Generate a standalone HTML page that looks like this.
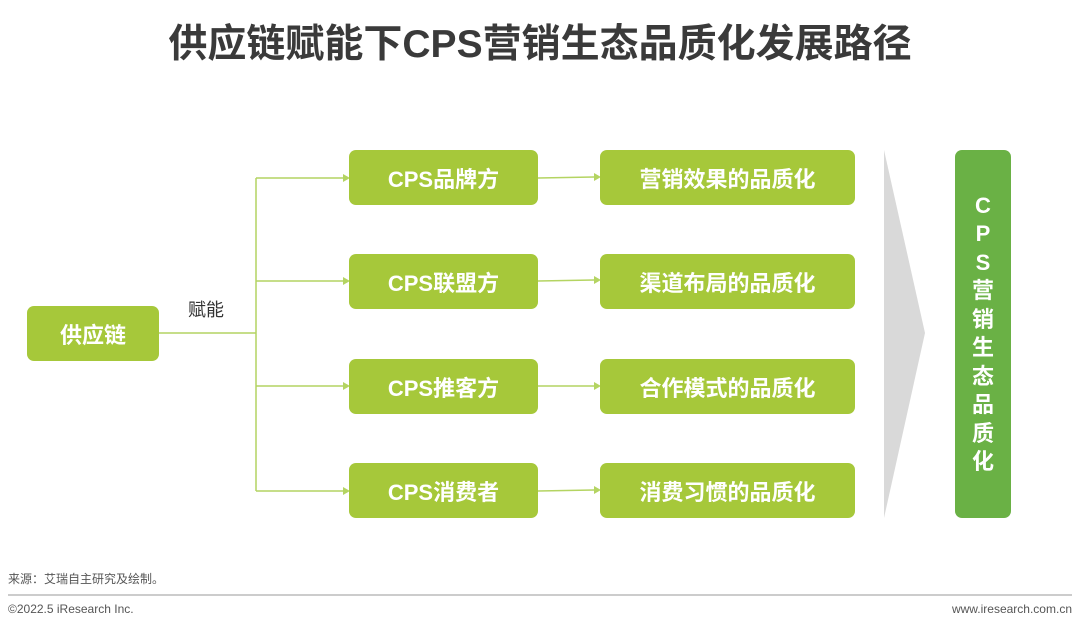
<!DOCTYPE html>
<html><head><meta charset="utf-8"><style>
body{margin:0;width:1080px;height:639px;background:#fff;position:relative;overflow:hidden;font-family:"Liberation Sans","Noto Sans CJK SC",sans-serif}
.t{position:absolute;left:0;width:1080px;top:13px;text-align:center;font-size:39px;font-weight:bold;color:#3a3a3a}
.b{position:absolute;background:#a6c83a;border-radius:7px;color:#fff;font-weight:bold;font-size:22px;display:flex;align-items:center;justify-content:center}
.s{position:absolute;font-size:12px;color:#555}
</style></head><body>
<div class="t">供应链赋能下CPS营销生态品质化发展路径</div>
<svg width="1080" height="639" style="position:absolute;left:0;top:0">
<g stroke="#b4d462" stroke-width="1.5" fill="none">
<line x1="159" y1="333" x2="256" y2="333"/>
<line x1="256" y1="178" x2="256" y2="491"/>
<line x1="256" y1="178" x2="343" y2="178"/>
<line x1="256" y1="281" x2="343" y2="281"/>
<line x1="256" y1="386" x2="343" y2="386"/>
<line x1="256" y1="491" x2="343" y2="491"/>
<line x1="538" y1="178" x2="594" y2="177"/>
<line x1="538" y1="281" x2="594" y2="280"/>
<line x1="538" y1="386" x2="594" y2="386"/>
<line x1="538" y1="491" x2="594" y2="490"/>
</g>
<g fill="#b4d462">
<polygon points="343,174 350,178 343,182"/>
<polygon points="343,277 350,281 343,285"/>
<polygon points="343,382 350,386 343,390"/>
<polygon points="343,487 350,491 343,495"/>
<polygon points="594,173 601,177 594,181"/>
<polygon points="594,276 601,280 594,284"/>
<polygon points="594,382 601,386 594,390"/>
<polygon points="594,486 601,490 594,494"/>
</g>
<polygon points="884,150 925,333 884,518" fill="#d9d9d9"/>
<line x1="8" y1="595" x2="1072" y2="595" stroke="#999" stroke-width="1"/>
</svg>
<div class="b" style="left:27px;top:306px;width:132px;height:55px">供应链</div>
<div style="position:absolute;left:188px;top:296px;font-size:18px;color:#333">赋能</div>
<div class="b" style="left:349px;top:150px;width:189px;height:55px">CPS品牌方</div>
<div class="b" style="left:349px;top:254px;width:189px;height:55px">CPS联盟方</div>
<div class="b" style="left:349px;top:359px;width:189px;height:55px">CPS推客方</div>
<div class="b" style="left:349px;top:463px;width:189px;height:55px">CPS消费者</div>
<div class="b" style="left:600px;top:150px;width:255px;height:55px">营销效果的品质化</div>
<div class="b" style="left:600px;top:254px;width:255px;height:55px">渠道布局的品质化</div>
<div class="b" style="left:600px;top:359px;width:255px;height:55px">合作模式的品质化</div>
<div class="b" style="left:600px;top:463px;width:255px;height:55px">消费习惯的品质化</div>
<div class="b" style="left:955px;top:150px;width:56px;height:368px;background:#6ab145;flex-direction:column;font-size:22px;line-height:28.5px;text-align:center"><div>C</div><div>P</div><div>S</div><div>营</div><div>销</div><div>生</div><div>态</div><div>品</div><div>质</div><div>化</div></div>
<div class="s" style="left:8px;top:570px">来源：艾瑞自主研究及绘制。</div>
<div class="s" style="left:8px;top:602px">©2022.5 iResearch Inc.</div>
<div class="s" style="right:8px;top:602px">www.iresearch.com.cn</div>
</body></html>
